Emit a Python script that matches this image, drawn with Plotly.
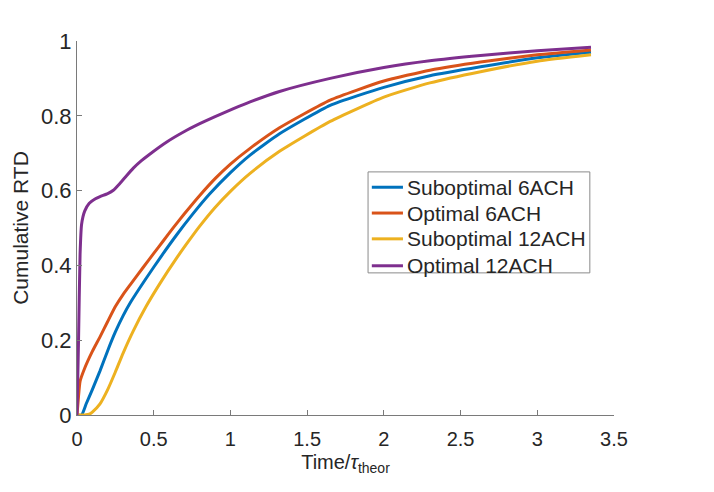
import plotly.graph_objects as go

# Suboptimal 6ACH
x_sub6 = [0, 0.03, 0.06, 0.1, 0.15, 0.2, 0.25, 0.3, 0.35, 0.45, 0.55, 0.65, 0.75, 0.867, 1.0, 1.128, 1.32, 1.65, 2.0, 2.3, 2.63, 3.0, 3.35]
y_sub6 = [0, 0, 0.03, 0.068, 0.118, 0.172, 0.222, 0.265, 0.302, 0.365, 0.425, 0.482, 0.535, 0.592, 0.648, 0.695, 0.752, 0.828, 0.876, 0.907, 0.931, 0.955, 0.970]

# Optimal 6ACH
x_opt6 = [0, 0.01, 0.02, 0.05, 0.1, 0.15, 0.2, 0.25, 0.3, 0.35, 0.432, 0.5, 0.563, 0.628, 0.7, 0.8, 0.9, 1.0, 1.128, 1.32, 1.65, 2.0, 2.3, 2.63, 3.0, 3.35]
y_opt6 = [0, 0.05, 0.09, 0.125, 0.17, 0.209, 0.25, 0.29, 0.322, 0.35, 0.395, 0.432, 0.466, 0.501, 0.538, 0.587, 0.632, 0.671, 0.713, 0.768, 0.842, 0.893, 0.922, 0.944, 0.963, 0.976]

# Suboptimal 12ACH
x_sub12 = [0, 0.05, 0.08, 0.1, 0.15, 0.2, 0.25, 0.3, 0.367, 0.45, 0.541, 0.65, 0.726, 0.8, 0.9, 1.0, 1.128, 1.32, 1.65, 2.0, 2.3, 2.63, 3.0, 3.35]
y_sub12 = [0, 0, 0.002, 0.008, 0.03, 0.068, 0.115, 0.165, 0.225, 0.29, 0.352, 0.42, 0.464, 0.505, 0.555, 0.598, 0.646, 0.705, 0.785, 0.85, 0.888, 0.918, 0.946, 0.963]

# Optimal 12ACH
x_opt12 = [0, 0.01, 0.02, 0.03, 0.05, 0.08, 0.12, 0.15, 0.2, 0.237, 0.275, 0.313, 0.367, 0.42, 0.476, 0.585, 0.7, 0.8, 0.9, 1.02, 1.128, 1.32, 1.65, 2.0, 2.3, 2.63, 3.0, 3.35]
y_opt12 = [0, 0.2, 0.43, 0.51, 0.545, 0.566, 0.578, 0.584, 0.592, 0.601, 0.617, 0.635, 0.66, 0.68, 0.698, 0.73, 0.758, 0.779, 0.798, 0.819, 0.837, 0.865, 0.9, 0.929, 0.947, 0.961, 0.974, 0.983]

names = ["Suboptimal 6ACH", "Optimal 6ACH", "Suboptimal 12ACH", "Optimal 12ACH"]
colors = ["#0072BD", "#D95319", "#EDB120", "#7E2F8E"]
xs_all = [x_sub6, x_opt6, x_sub12, x_opt12]
ys_all = [y_sub6, y_opt6, y_sub12, y_opt12]

x_ticks = [0, 0.5, 1, 1.5, 2, 2.5, 3, 3.5]
x_ticklabels = ["0", "0.5", "1", "1.5", "2", "2.5", "3", "3.5"]
y_ticks = [0, 0.2, 0.4, 0.6, 0.8, 1]
y_ticklabels = ["0", "0.2", "0.4", "0.6", "0.8", "1"]

fig = go.Figure()
for name, xs, ys, col in zip(names, xs_all, ys_all, colors):
    fig.add_trace(go.Scatter(x=xs, y=ys, name=name, mode="lines",
                             line=dict(color=col, width=3, shape="spline", smoothing=0.5),
                             cliponaxis=False, showlegend=False))

font_family = "Liberation Sans, Arial, sans-serif"
axis_col = "#7a7a7a"
text_col = "#262626"

# Legend box (drawn in paper coordinates)
leg_x0, leg_x1 = 0.542, 0.955
leg_y0, leg_y1 = 0.380, 0.650
row_y = [0.609, 0.540, 0.471, 0.399]
line_x0, line_x1, text_x = 0.549, 0.607, 0.610

shapes = [dict(type="rect", xref="paper", yref="paper",
               x0=leg_x0, x1=leg_x1, y0=leg_y0, y1=leg_y1,
               line=dict(color="#8a8a8a", width=1), fillcolor="white", layer="above")]
annotations = []
for name, col, ry in zip(names, colors, row_y):
    shapes.append(dict(type="line", xref="paper", yref="paper",
                       x0=line_x0, x1=line_x1, y0=ry, y1=ry,
                       line=dict(color=col, width=3), layer="above"))
    annotations.append(dict(xref="paper", yref="paper", x=text_x, y=ry,
                            text=name, showarrow=False, xanchor="left", yanchor="middle",
                            font=dict(family=font_family, size=21, color=text_col)))

fig.update_layout(
    width=714, height=492,
    margin=dict(l=69, r=108, t=33, b=85),
    paper_bgcolor="white", plot_bgcolor="white",
    font=dict(family=font_family, size=20, color=text_col),
    showlegend=False,
    shapes=shapes,
    annotations=annotations,
)
fig.update_xaxes(range=[0, 3.5], tickvals=x_ticks, ticktext=x_ticklabels,
                 automargin=False,
                 showline=True, linecolor=axis_col, linewidth=1,
                 ticks="inside", ticklen=5, tickcolor=axis_col,
                 showgrid=False, zeroline=False, mirror=False,
                 ticklabelstandoff=6,
                 tickfont=dict(size=20, color=text_col),
                 title=dict(text="Time/<i>τ</i><sub>theor</sub>", font=dict(size=20, color=text_col), standoff=5))
fig.update_yaxes(range=[0, 1], tickvals=y_ticks, ticktext=y_ticklabels,
                 automargin=False,
                 showline=True, linecolor=axis_col, linewidth=1,
                 ticks="inside", ticklen=5, tickcolor=axis_col,
                 showgrid=False, zeroline=False, mirror=False,
                 tickfont=dict(size=22, color=text_col),
                 title=dict(text="Cumulative RTD", font=dict(size=21, color=text_col), standoff=6))

fig.write_html("out.html")
